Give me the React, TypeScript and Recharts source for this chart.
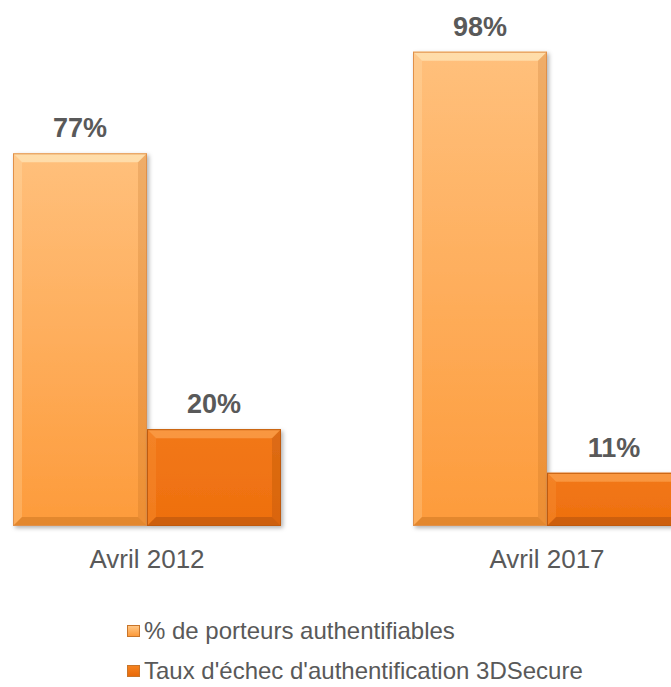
import React from 'react';
import { BarChart, Bar, XAxis, YAxis, LabelList, Legend } from 'recharts';

const periods = ['Avril 2012', 'Avril 2017'];
const porteurs = [77, 98];
const echecs = [20, 11];

const data = periods.map((p, i) => ({ period: p, porteurs: porteurs[i], echecs: echecs[i] }));

const FONT = '"Liberation Sans", Arial, sans-serif';
const GREY = '#595959';

// bevelled bar, like the office "bevel" effect
const bevelShape = (light: string, dark: string, edge: string, grad: string) => (props: any) => {
  const { x, y, width: w, height: h } = props;
  if (!h || h <= 0) return null;
  const b = Math.min(9, h / 2);
  return (
    <g filter="url(#shadow)">
      <rect x={x} y={y} width={w} height={h} fill={`url(#${grad})`} />
      <polygon points={`${x},${y} ${x + w},${y} ${x + w - b},${y + b} ${x + b},${y + b}`} fill={light} opacity={0.55} />
      <polygon points={`${x},${y} ${x + b},${y + b} ${x + b},${y + h - b} ${x},${y + h}`} fill={light} opacity={0.2} />
      <polygon points={`${x + w},${y} ${x + w},${y + h} ${x + w - b},${y + h - b} ${x + w - b},${y + b}`} fill={dark} opacity={0.18} />
      <polygon points={`${x},${y + h} ${x + w},${y + h} ${x + w - b},${y + h - b} ${x + b},${y + h - b}`} fill={dark} opacity={0.3} />
      <rect x={x + 0.5} y={y + 0.5} width={w - 1} height={h - 1} fill="none" stroke={edge} strokeWidth={1} />
    </g>
  );
};

const renderLegend = (props: any) => {
  const { payload } = props;
  return (
    <div style={{ fontFamily: FONT, fontSize: 24, color: GREY }}>
      {payload.map((entry: any) => (
        <div key={entry.value} style={{ display: 'flex', alignItems: 'center', height: 40 }}>
          <span
            style={{
              display: 'inline-block',
              width: 11,
              height: 10,
              marginRight: 4,
              background: entry.dataKey === 'porteurs' ? 'linear-gradient(#ffc684, #fd9a3a)' : 'linear-gradient(#f5821f, #e96a0a)',
              border: '1px solid #c8752a',
            }}
          />
          <span>{entry.value}</span>
        </div>
      ))}
    </div>
  );
};

export default function App() {
  return (
    <div style={{ position: 'absolute', left: 0, top: 0, width: 671, height: 687, overflow: 'hidden', background: '#fff', fontFamily: FONT }}>
      <div style={{ position: 'absolute', left: -53, top: 0 }}>
        <BarChart
          width={800}
          height={687}
          data={data}
          margin={{ top: 42, right: 0, left: 0, bottom: 51 }}
          barCategoryGap={66}
          barGap={0}
        >
          <defs>
            <linearGradient id="gLight" x1="0" y1="0" x2="0" y2="1">
              <stop offset="0%" stopColor="#ffc07c" />
              <stop offset="100%" stopColor="#fd9b3b" />
            </linearGradient>
            <linearGradient id="gDark" x1="0" y1="0" x2="0" y2="1">
              <stop offset="0%" stopColor="#f27818" />
              <stop offset="100%" stopColor="#ee6f0e" />
            </linearGradient>
            <filter id="shadow" x="-10%" y="-10%" width="125%" height="125%">
              <feDropShadow dx="2" dy="2" stdDeviation="2" floodColor="#000" floodOpacity="0.3" />
            </filter>
          </defs>
          <XAxis
            dataKey="period"
            axisLine={false}
            tickLine={false}
            tickMargin={18}
            height={30}
            tick={{ fill: GREY, fontSize: 26, fontFamily: FONT }}
          />
          <YAxis hide domain={[0, 100]} />
          <Legend
            layout="vertical"
            align="center"
            verticalAlign="bottom"
            content={renderLegend}
            wrapperStyle={{ position: 'absolute', top: 611, left: 180, bottom: 'auto', width: 'auto' }}
          />
          <Bar
            dataKey="porteurs"
            name="% de porteurs authentifiables"
            fill="#fdac5a"
            isAnimationActive={false}
            shape={bevelShape('#fff4d0', '#a85a10', '#e0904a', 'gLight')}
          >
            <LabelList
              dataKey="porteurs"
              position="top"
              offset={16}
              formatter={(v: any) => `${v}%`}
              style={{ fill: GREY, fontSize: 27, fontWeight: 'bold', fontFamily: FONT }}
            />
          </Bar>
          <Bar
            dataKey="echecs"
            name="Taux d'échec d'authentification 3DSecure"
            fill="#f07414"
            isAnimationActive={false}
            shape={bevelShape('#ffb060', '#803800', '#c05a0a', 'gDark')}
          >
            <LabelList
              dataKey="echecs"
              position="top"
              offset={16}
              formatter={(v: any) => `${v}%`}
              style={{ fill: GREY, fontSize: 27, fontWeight: 'bold', fontFamily: FONT }}
            />
          </Bar>
        </BarChart>
      </div>
    </div>
  );
}
